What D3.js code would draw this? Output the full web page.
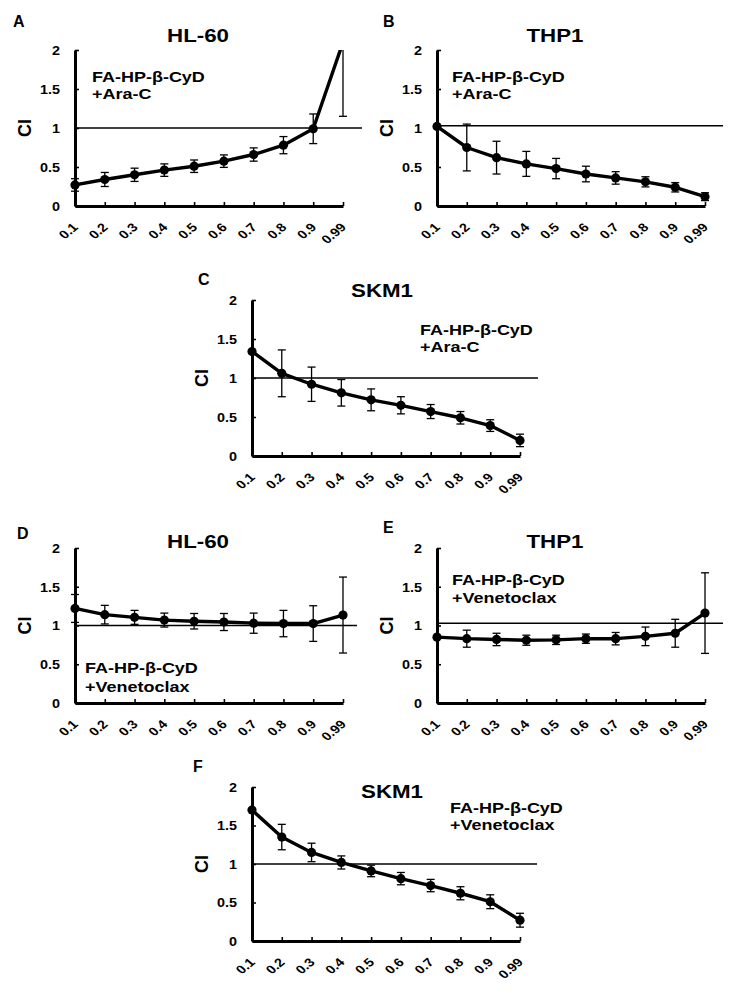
<!DOCTYPE html>
<html><head><meta charset="utf-8">
<script src="https://cdn.jsdelivr.net/npm/d3@7"></script>
<style>
html,body{margin:0;padding:0;background:#fff;}
svg{display:block;font-family:Arial,"Liberation Sans",sans-serif;}
</style></head>
<body><svg id="c" width="732" height="995"></svg>
<script>
// ---- data ----
const categories = ["0.1","0.2","0.3","0.4","0.5","0.6","0.7","0.8","0.9","0.99"];
const yTicks = [0, 0.5, 1, 1.5, 2];

const hl60AraC      = [0.27,0.34,0.40,0.46,0.51,0.575,0.66,0.78,0.99,2.10];
const hl60AraCErr   = [0.08,0.09,0.085,0.08,0.08,0.08,0.085,0.11,0.19,0.95];
const thp1AraC      = [1.02,0.75,0.62,0.54,0.48,0.41,0.36,0.31,0.24,0.12];
const thp1AraCErr   = [0,0.30,0.21,0.16,0.13,0.10,0.08,0.065,0.06,0.05];
const skm1AraC      = [1.34,1.06,0.92,0.81,0.72,0.65,0.57,0.49,0.39,0.20];
const skm1AraCErr   = [0,0.30,0.22,0.17,0.14,0.11,0.09,0.08,0.075,0.08];
const hl60Ven       = [1.22,1.14,1.105,1.07,1.055,1.045,1.03,1.025,1.025,1.135];
const hl60VenErr    = [0.18,0.12,0.09,0.09,0.10,0.11,0.13,0.17,0.23,0.49];
const thp1Ven       = [0.85,0.83,0.82,0.81,0.815,0.83,0.83,0.86,0.90,1.16];
const thp1VenErr    = [0,0.11,0.08,0.065,0.06,0.06,0.08,0.12,0.18,0.52];
const skm1Ven       = [1.70,1.35,1.15,1.02,0.91,0.81,0.72,0.62,0.51,0.27];
const skm1VenErr    = [0,0.165,0.12,0.085,0.075,0.08,0.08,0.085,0.09,0.09];

const panelLetters = ["A","B","C","D","E","F"];
const cellLines = ["HL-60","THP1","SKM1","HL-60","THP1","SKM1"];
const combos = ["+Ara-C","+Ara-C","+Ara-C","+Venetoclax","+Venetoclax","+Venetoclax"];
const drugName = "FA-HP-β-CyD";
const refValues = [1.0,1.03,1.0,1.0,1.03,1.0];
const seriesValues = [hl60AraC,thp1AraC,skm1AraC,hl60Ven,thp1Ven,skm1Ven];
const seriesErrors = [hl60AraCErr,thp1AraCErr,skm1AraCErr,hl60VenErr,thp1VenErr,skm1VenErr];

// ---- layout ----
const SX = 1.2; // horizontal text stretch seen in the figure
const layout = [
  {x0:75, x1:343, yT:50, yB:206, refEnd:362, tx:198, ty:42, lx:13, ly:27, ax:92, ay:82, ay2:99},
  {x0:437, x1:705, yT:50, yB:206, refEnd:723, tx:555, ty:42, lx:383, ly:27, ax:452, ay:82, ay2:99},
  {x0:252, x1:520, yT:300, yB:456, refEnd:538, tx:382, ty:297, lx:198, ly:285, ax:420, ay:335, ay2:352},
  {x0:75, x1:343, yT:548, yB:703, refEnd:357, tx:198, ty:548, lx:17, ly:539, ax:85, ay:673, ay2:692},
  {x0:437, x1:705, yT:548, yB:703, refEnd:723, tx:555, ty:548, lx:383, ly:533, ax:452, ay:585, ay2:603},
  {x0:252, x1:520, yT:787, yB:941, refEnd:537, tx:392, ty:798, lx:193, ly:772, ax:450, ay:813, ay2:830}
];

const svg = d3.select("#c");
const FONT = "Arial,'Liberation Sans',sans-serif";

function stext(g, x, y, str, fs, anchor) {
  return g.append("text")
    .attr("transform", `translate(${x},${y}) scale(${SX},1)`)
    .attr("text-anchor", anchor || "start")
    .attr("font-size", fs).attr("font-weight", "bold").attr("font-family", FONT)
    .text(str);
}

layout.forEach((L, i) => {
  const g = svg.append("g");
  const x = d3.scalePoint().domain(categories).range([L.x0, L.x1]);
  const y = d3.scaleLinear().domain([0, 2]).range([L.yB, L.yT]);
  const clipId = "clip" + i;
  svg.append("clipPath").attr("id", clipId).append("rect")
    .attr("x", L.x0 - 10).attr("y", L.yT).attr("width", L.refEnd - L.x0 + 20).attr("height", L.yB - L.yT + 10);

  // reference line
  g.append("line").attr("x1", L.x0).attr("x2", L.refEnd)
    .attr("y1", y(refValues[i])).attr("y2", y(refValues[i]))
    .attr("stroke", "#000").attr("stroke-width", 1.5);

  const vals = seriesValues[i], errs = seriesErrors[i];
  const data = categories.map((c, k) => ({c, v: vals[k], e: errs[k]}));
  const pg = g.append("g").attr("clip-path", `url(#${clipId})`);

  // error bars
  const eb = pg.selectAll("g.eb").data(data.filter(d => d.e > 0)).join("g");
  eb.append("line").attr("x1", d => x(d.c)).attr("x2", d => x(d.c))
    .attr("y1", d => y(d.v + d.e)).attr("y2", d => y(d.v - d.e))
    .attr("stroke", "#000").attr("stroke-width", 1.3);
  eb.append("line").attr("x1", d => x(d.c) - 4).attr("x2", d => x(d.c) + 4)
    .attr("y1", d => y(d.v + d.e)).attr("y2", d => y(d.v + d.e))
    .attr("stroke", "#000").attr("stroke-width", 1.3);
  eb.append("line").attr("x1", d => x(d.c) - 4).attr("x2", d => x(d.c) + 4)
    .attr("y1", d => y(d.v - d.e)).attr("y2", d => y(d.v - d.e))
    .attr("stroke", "#000").attr("stroke-width", 1.3);

  // line
  pg.append("path").datum(data)
    .attr("d", d3.line().x(d => x(d.c)).y(d => y(d.v)))
    .attr("fill", "none").attr("stroke", "#000").attr("stroke-width", 3.4).attr("stroke-linejoin", "round");
  pg.selectAll("circle").data(data).join("circle")
    .attr("cx", d => x(d.c)).attr("cy", d => y(d.v)).attr("r", 4.6).attr("fill", "#000");

  // axes
  const ya = g.append("g").attr("transform", `translate(${L.x0},0)`)
    .call(d3.axisLeft(y).tickValues(yTicks).tickSize(-4).tickSizeOuter(0).tickFormat(d => String(d)));
  ya.select(".domain").attr("stroke-width", 3);
  ya.selectAll(".tick line").attr("stroke-width", 1.6);
  ya.selectAll("text")
    .attr("x", null).attr("dy", "0.36em")
    .attr("transform", `translate(-15,0) scale(${SX},1)`)
    .attr("font-size", 12).attr("font-weight", "bold").attr("font-family", FONT);

  const xa = g.append("g").attr("transform", `translate(0,${L.yB})`)
    .call(d3.axisBottom(x).tickSize(-4).tickSizeOuter(0));
  xa.select(".domain").attr("stroke-width", 3);
  xa.selectAll(".tick line").attr("stroke-width", 1.6);
  xa.selectAll("text")
    .attr("font-size", 12).attr("font-weight", "bold").attr("font-family", FONT)
    .attr("text-anchor", "end").attr("dy", null).attr("y", null)
    .attr("transform", `translate(3.5,22) scale(${SX},1) rotate(-45)`);
  ya.select(".domain").raise();

  // CI label
  g.append("text").attr("transform", `translate(${L.x0 - 44},${(L.yT + L.yB) / 2}) rotate(-90)`)
    .attr("text-anchor", "middle").attr("font-size", 18).attr("font-weight", "bold").attr("font-family", FONT).text("CI");

  // title
  stext(g, L.tx, L.ty, cellLines[i], 18.6, "middle");
  // letter
  g.append("text").attr("x", L.lx).attr("y", L.ly)
    .attr("font-size", 16).attr("font-weight", "bold").attr("font-family", FONT).text(panelLetters[i]);
  // annotation
  stext(g, L.ax, L.ay, drugName, 15);
  stext(g, L.ax, L.ay2, combos[i], 15);
});
</script></body></html>
